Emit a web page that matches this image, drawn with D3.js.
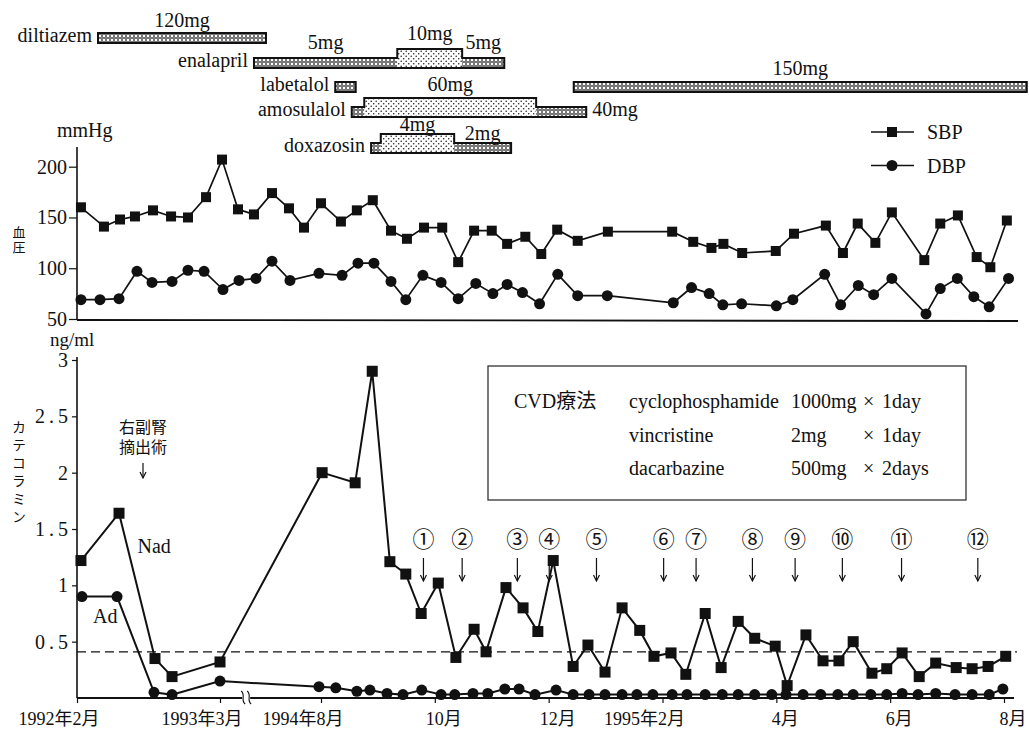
<!DOCTYPE html>
<html>
<head>
<meta charset="utf-8">
<script src="https://cdn.jsdelivr.net/npm/d3@7/dist/d3.min.js"></script>
<style>
body { margin: 0; background: #fff; }
svg text { font-family: 'Liberation Serif', 'Noto Sans CJK JP', serif; fill: #111; }
</style>
</head>
<body>
<svg id="chart" width="1029" height="731"></svg>
<script>
/* time unit: months since 1992年2月 (axis broken between 1993年3月 and 1994年8月) */
var tickMonths = [0, 13, 30, 32, 34, 36, 38, 40, 42];
var tickLabels = ["1992年2月", "1993年3月", "1994年8月", "10月", "12月", "1995年2月", "4月", "6月", "8月"];

// 血圧 mmHg
var sbpMonths = [0.36, 2.45, 3.91, 5.27, 6.91, 8.55, 10.09, 11.73, 13.34, 16.03, 18.72, 21.75, 24.61, 27.14,
    30.00, 30.35, 30.63, 30.91, 31.23, 31.51, 31.81, 32.13, 32.41, 32.69, 33.00, 33.27, 33.59, 33.87, 34.15,
    34.51, 35.04, 36.17, 36.54, 36.86, 37.07, 37.40, 37.99, 38.31, 38.87, 39.17, 39.43, 39.74, 40.03, 40.60,
    40.88, 41.19, 41.52, 41.76, 42.05];
var sbpValues = [160, 141, 148, 151, 157, 151, 150, 170, 207, 158, 153, 174, 159, 140,
    164, 146, 157, 167, 137, 129, 140, 140, 106, 137, 137, 124, 131, 114, 138,
    127, 136, 136, 126, 120, 124, 115, 117, 134, 142, 115, 144, 125, 155, 108,
    144, 152, 111, 101, 147];
var dbpMonths = [0.36, 2.09, 3.82, 5.45, 6.82, 8.64, 10.09, 11.55, 13.50, 16.20, 19.06, 21.75, 24.78, 29.66,
    30.37, 30.65, 30.93, 31.23, 31.49, 31.79, 32.11, 32.41, 32.72, 33.02, 33.27, 33.54, 33.84, 34.16, 34.51,
    35.03, 36.19, 36.51, 36.82, 37.06, 37.39, 38.00, 38.29, 38.85, 39.13, 39.44, 39.71, 40.03, 40.63, 40.88,
    41.18, 41.47, 41.74, 42.08];
var dbpValues = [69, 69, 70, 97, 86, 87, 98, 97, 79, 88, 90, 107, 88, 95,
    93, 105, 105, 87, 69, 93, 86, 70, 85, 75, 84, 76, 65, 94, 73,
    73, 66, 81, 75, 64, 65, 63, 69, 94, 64, 83, 74, 90, 55, 80,
    90, 72, 62, 90];

// カテコラミン ng/ml
var nadMonths = [0.36, 3.82, 7.09, 8.64, 13.0, 30.02, 30.60, 30.90, 31.21, 31.49, 31.76, 32.06, 32.37, 32.69,
    32.90, 33.25, 33.55, 33.81, 34.08, 34.43, 34.69, 34.99, 35.29, 35.60, 35.85, 36.15, 36.41, 36.75, 37.03,
    37.33, 37.62, 37.98, 38.19, 38.52, 38.82, 39.10, 39.35, 39.68, 39.94, 40.21, 40.51, 40.80, 41.16, 41.44,
    41.72, 42.03];
var nadValues = [1.22, 1.64, 0.35, 0.19, 0.32, 2.00, 1.91, 2.90, 1.21, 1.10, 0.75, 1.02, 0.36, 0.61,
    0.41, 0.98, 0.80, 0.59, 1.22, 0.28, 0.47, 0.23, 0.80, 0.60, 0.37, 0.40, 0.21, 0.75, 0.27,
    0.68, 0.53, 0.46, 0.11, 0.56, 0.33, 0.33, 0.50, 0.22, 0.26, 0.40, 0.19, 0.31, 0.27, 0.26,
    0.28, 0.37];
var adMonths = [0.45, 3.64, 7.00, 8.64, 13.0, 29.66, 30.26, 30.63, 30.86, 31.16, 31.44, 31.77, 32.11, 32.35,
    32.67, 32.93, 33.23, 33.48, 33.76, 34.13, 34.43, 34.71, 34.99, 35.29, 35.55, 35.83, 36.17, 36.43, 36.75,
    37.05, 37.33, 37.62, 37.92, 38.17, 38.47, 38.78, 39.08, 39.35, 39.66, 39.94, 40.21, 40.49, 40.80, 41.14,
    41.44, 41.74, 41.98];
var adValues = [0.90, 0.90, 0.05, 0.03, 0.15, 0.10, 0.09, 0.06, 0.07, 0.04, 0.03, 0.07, 0.03, 0.03,
    0.04, 0.04, 0.08, 0.08, 0.03, 0.07, 0.03, 0.03, 0.03, 0.03, 0.03, 0.03, 0.03, 0.03, 0.03,
    0.03, 0.03, 0.03, 0.03, 0.03, 0.03, 0.03, 0.03, 0.03, 0.03, 0.03, 0.04, 0.03, 0.04, 0.03,
    0.03, 0.03, 0.08];
var nadUpperLimit = 0.41; // 破線

// CVD療法 cycles
var cycleMonths = [31.80, 32.48, 33.45, 34.01, 34.84, 36.02, 36.59, 37.58, 38.33, 39.16, 40.20, 41.54];
var cycleLabels = ["①", "②", "③", "④", "⑤", "⑥", "⑦", "⑧", "⑨", "⑩", "⑪", "⑫"];
var cvdRows = [
    ["cyclophosphamide", "1000mg", "1day"],
    ["vincristine", "2mg", "1day"],
    ["dacarbazine", "500mg", "2days"]
];
var surgeryMonth = 6.0;
var surgeryText = ["右副腎", "摘出術"];

// drugs: level 1 = thin bar, level 2 = raised (higher dose)
var drugNames = ["diltiazem", "enalapril", "labetalol", "amosulalol", "doxazosin"];
var drugSegments = [
    { drug: "diltiazem", start: 1.91, end: 20.74, level: 1, dose: "120mg" },
    { drug: "enalapril", start: 18.72, end: 31.34, level: 1, dose: "5mg" },
    { drug: "enalapril", start: 31.34, end: 32.48, level: 2, dose: "10mg" },
    { drug: "enalapril", start: 32.48, end: 33.22, level: 1, dose: "5mg" },
    { drug: "labetalol", start: 30.25, end: 30.61, level: 1, dose: "" },
    { drug: "labetalol", start: 34.44, end: 42.40, level: 1, dose: "150mg" },
    { drug: "amosulalol", start: 30.54, end: 30.76, level: 1, dose: "" },
    { drug: "amosulalol", start: 30.76, end: 33.78, level: 2, dose: "60mg" },
    { drug: "amosulalol", start: 33.78, end: 34.66, level: 1, dose: "40mg", side: "right" },
    { drug: "doxazosin", start: 30.88, end: 31.05, level: 1, dose: "" },
    { drug: "doxazosin", start: 31.05, end: 32.34, level: 2, dose: "4mg" },
    { drug: "doxazosin", start: 32.34, end: 33.34, level: 1, dose: "2mg" }
];

var bpTicks = [50, 100, 150, 200];
var ngTicks = [0.5, 1, 1.5, 2, 2.5, 3];
var bpSeries = ["SBP", "DBP"];

/* ---------------- drawing ---------------- */
var svg = d3.select("#chart");
var CJK = "'Noto Sans CJK JP', sans-serif";
var SERIF = "'Liberation Serif', 'Noto Sans CJK JP', serif";

// broken time scale (polylinear)
var x = d3.scaleLinear().domain([0, 13, 30, 42]).range([77, 220, 321, 1004]);
var yBP = d3.scaleLinear().domain([50, 200]).range([319, 166.7]);
var yNg = d3.scaleLinear().domain([0, 3]).range([698, 360]);
var X0 = 77, XEND = 1017;

// patterns for the drug bars
var defs = svg.append("defs");
var p1 = defs.append("pattern").attr("id", "dose1").attr("width", 4).attr("height", 4)
    .attr("patternUnits", "userSpaceOnUse");
p1.append("rect").attr("width", 4).attr("height", 4).attr("fill", "#fff");
p1.append("circle").attr("cx", 2).attr("cy", 2).attr("r", 1.3)
    .attr("fill", "none").attr("stroke", "#222").attr("stroke-width", 1);
var p2 = defs.append("pattern").attr("id", "dose2").attr("width", 5).attr("height", 5)
    .attr("patternUnits", "userSpaceOnUse");
p2.append("rect").attr("width", 5).attr("height", 5).attr("fill", "#fff");
p2.append("circle").attr("cx", 1.2).attr("cy", 1.2).attr("r", 0.8).attr("fill", "#222");
p2.append("circle").attr("cx", 3.7).attr("cy", 3.7).attr("r", 0.8).attr("fill", "#222");

/* ---- drug bars ---- */
var rowBottom = [43, 68, 92, 117, 153];
var rowLabelGap = [6, 9, 7, 7, 3]; // dose text above bar
var levelHeight = [0, 10, 19];
var gDrug = svg.append("g");

drugNames.forEach(function (name, r) {
    var segs = drugSegments.filter(function (s) { return s.drug === name; })
        .sort(function (a, b) { return a.start - b.start; });
    var bottom = rowBottom[r];
    var top = function (s) { return bottom - levelHeight[s.level]; };

    gDrug.selectAll(null).data(segs).enter().append("rect")
        .attr("x", function (s) { return x(s.start); })
        .attr("y", function (s) { return top(s); })
        .attr("width", function (s) { return x(s.end) - x(s.start); })
        .attr("height", function (s) { return levelHeight[s.level]; })
        .attr("fill", function (s) { return "url(#dose" + s.level + ")"; });

    // outline each contiguous run as one step shape
    var runs = [];
    segs.forEach(function (s) {
        var last = runs[runs.length - 1];
        if (last && Math.abs(last[last.length - 1].end - s.start) < 0.01) last.push(s);
        else runs.push([s]);
    });
    runs.forEach(function (run) {
        var d = "M" + x(run[0].start) + "," + bottom;
        run.forEach(function (s) {
            d += "V" + top(s) + "H" + x(s.end);
        });
        d += "V" + bottom + "Z";
        gDrug.append("path").attr("d", d).attr("fill", "none")
            .attr("stroke", "#111").attr("stroke-width", 2);
    });

    gDrug.append("text")
        .attr("x", x(segs[0].start) - 6).attr("y", bottom - 1)
        .attr("text-anchor", "end").attr("font-size", 20)
        .text(name);

    segs.filter(function (s) { return s.dose; }).forEach(function (s) {
        if (s.side === "right") {
            gDrug.append("text").attr("x", x(s.end) + 6).attr("y", bottom - 1)
                .attr("font-size", 20).text(s.dose);
        } else {
            gDrug.append("text").attr("x", (x(s.start) + x(s.end)) / 2).attr("y", top(s) - rowLabelGap[r])
                .attr("text-anchor", "middle").attr("font-size", 20).text(s.dose);
        }
    });
});

/* helper: vertical (縦書き) label */
function verticalLabel(text, cx, y0, size, spacing) {
    svg.append("text")
        .attr("x", cx).attr("y", y0)
        .attr("font-size", size)
        .attr("letter-spacing", spacing)
        .style("font-family", CJK)
        .style("writing-mode", "vertical-rl")
        .style("text-orientation", "upright")
        .text(text);
}

/* helper: thin down arrow */
function downArrow(g, ax, y1, y2) {
    g.append("line").attr("x1", ax).attr("x2", ax).attr("y1", y1).attr("y2", y2)
        .attr("stroke", "#111").attr("stroke-width", 1.2);
    g.append("path").attr("d", "M" + (ax - 3) + "," + (y2 - 6) + "L" + ax + "," + y2 + "L" + (ax + 3) + "," + (y2 - 6))
        .attr("fill", "none").attr("stroke", "#111").attr("stroke-width", 1.2);
}

/* ---- blood pressure panel ---- */
var gBP = svg.append("g");
gBP.append("line").attr("x1", X0).attr("x2", X0).attr("y1", 147).attr("y2", 320)
    .attr("stroke", "#111").attr("stroke-width", 1.6);
gBP.append("line").attr("x1", X0).attr("x2", XEND + 1).attr("y1", 320).attr("y2", 321)
    .attr("stroke", "#111").attr("stroke-width", 1.8);
var bpAxis = gBP.append("g").attr("transform", "translate(" + X0 + ",0)")
    .call(d3.axisLeft(yBP).tickValues(bpTicks).tickSize(8).tickPadding(2));
bpAxis.select(".domain").remove();
bpAxis.selectAll("line").attr("stroke", "#111").attr("stroke-width", 1.2);
bpAxis.selectAll("text").attr("font-size", 20).style("font-family", SERIF).attr("fill", "#111");

gBP.append("text").attr("x", 57).attr("y", 137).attr("font-size", 20).text("mmHg");
verticalLabel("血圧", 19, 226, 13, 2);

var bpLine = d3.line().x(function (d) { return x(d[0]); }).y(function (d) { return yBP(d[1]); });
var sbp = d3.zip(sbpMonths, sbpValues), dbp = d3.zip(dbpMonths, dbpValues);
gBP.append("path").attr("d", bpLine(sbp)).attr("fill", "none").attr("stroke", "#111").attr("stroke-width", 1.7);
gBP.append("path").attr("d", bpLine(dbp)).attr("fill", "none").attr("stroke", "#111").attr("stroke-width", 1.7);
gBP.selectAll(".sbp").data(sbp).enter().append("rect").attr("class", "sbp")
    .attr("x", function (d) { return x(d[0]) - 5; }).attr("y", function (d) { return yBP(d[1]) - 5; })
    .attr("width", 10).attr("height", 10).attr("fill", "#111");
gBP.selectAll(".dbp").data(dbp).enter().append("circle").attr("class", "dbp")
    .attr("cx", function (d) { return x(d[0]); }).attr("cy", function (d) { return yBP(d[1]); })
    .attr("r", 5.5).attr("fill", "#111");

// legend
var lg = gBP.append("g").selectAll(null).data(bpSeries).enter().append("g")
    .attr("transform", function (d, i) { return "translate(871," + (132 + i * 33.5) + ")"; });
lg.append("line").attr("x1", 0).attr("x2", 43).attr("stroke", "#111").attr("stroke-width", 1.6);
lg.filter(function (d, i) { return i === 0; }).append("rect")
    .attr("x", 16).attr("y", -5).attr("width", 10).attr("height", 10).attr("fill", "#111");
lg.filter(function (d, i) { return i === 1; }).append("circle")
    .attr("cx", 21).attr("r", 5.5).attr("fill", "#111");
lg.append("text").attr("x", 56).attr("y", 7).attr("font-size", 20).text(function (d) { return d; });

/* ---- catecholamine panel ---- */
var gNg = svg.append("g");
gNg.append("line").attr("x1", X0).attr("x2", X0).attr("y1", 357).attr("y2", 698)
    .attr("stroke", "#111").attr("stroke-width", 1.6);
gNg.append("line").attr("x1", X0).attr("x2", XEND - 3).attr("y1", 698).attr("y2", 698)
    .attr("stroke", "#111").attr("stroke-width", 1.8);

var ngAxis = gNg.append("g").attr("transform", "translate(" + X0 + ",0)")
    .call(d3.axisLeft(yNg).tickValues(ngTicks).tickSize(5).tickPadding(0).tickFormat(d3.format("")));
ngAxis.select(".domain").remove();
ngAxis.selectAll("line").attr("stroke", "#111").attr("stroke-width", 1.2);
ngAxis.selectAll("text").attr("font-size", 20).style("font-family", SERIF).attr("fill", "#111")
    .attr("letter-spacing", 4);

gNg.append("text").attr("x", 50).attr("y", 346).attr("font-size", 19).text("ng/ml");
verticalLabel("カテコラミン", 19, 420, 14, 4);

// x ticks + labels (month digit centred on the tick)
var xAxis = gNg.append("g").attr("transform", "translate(0,698)")
    .call(d3.axisBottom(x).tickValues(tickMonths).tickSize(5).tickFormat(""));
xAxis.select(".domain").remove();
xAxis.selectAll("line").attr("stroke", "#111").attr("stroke-width", 1.2);

tickMonths.forEach(function (m, i) {
    var label = tickLabels[i];
    var parts = label.match(/^(.*?年)?(\d+)月$/);
    var pre = parts[1] || "", num = parts[2];
    var t = gNg.append("text").attr("y", 725).attr("font-size", 18).text(label);
    var node = t.node();
    var w0 = pre.length ? node.getSubStringLength(0, pre.length) : 0;
    var wn = node.getSubStringLength(pre.length, num.length);
    t.attr("x", x(m) - w0 - wn / 2);
});

// axis break mark
var xb = x(17.4);
gNg.append("rect").attr("x", xb - 4).attr("y", 694).attr("width", 8).attr("height", 8).attr("fill", "#fff");
[-3, 3].forEach(function (dx) {
    gNg.append("path")
        .attr("d", "M" + (xb + dx - 2) + ",691 C" + (xb + dx + 3) + ",695 " + (xb + dx - 3) + ",700 " + (xb + dx + 2) + ",704")
        .attr("fill", "none").attr("stroke", "#111").attr("stroke-width", 1.1);
});

// upper limit dashed line
gNg.append("line").attr("x1", X0).attr("x2", XEND).attr("y1", yNg(nadUpperLimit)).attr("y2", yNg(nadUpperLimit))
    .attr("stroke", "#111").attr("stroke-width", 1.2).attr("stroke-dasharray", "9,5");

var ngLine = d3.line().x(function (d) { return x(d[0]); }).y(function (d) { return yNg(d[1]); });
var nad = d3.zip(nadMonths, nadValues), ad = d3.zip(adMonths, adValues);
gNg.append("path").attr("d", ngLine(nad)).attr("fill", "none").attr("stroke", "#111").attr("stroke-width", 2);
gNg.append("path").attr("d", ngLine(ad)).attr("fill", "none").attr("stroke", "#111").attr("stroke-width", 2);
gNg.selectAll(".nad").data(nad).enter().append("rect").attr("class", "nad")
    .attr("x", function (d) { return x(d[0]) - 5.5; }).attr("y", function (d) { return yNg(d[1]) - 5.5; })
    .attr("width", 11).attr("height", 11).attr("fill", "#111");
gNg.selectAll(".ad").data(ad).enter().append("circle").attr("class", "ad")
    .attr("cx", function (d) { return x(d[0]); }).attr("cy", function (d) { return yNg(d[1]); })
    .attr("r", 5.5).attr("fill", "#111");

gNg.append("text").attr("x", x(5.5)).attr("y", yNg(1.29)).attr("font-size", 20).text("Nad");
gNg.append("text").attr("x", x(1.45)).attr("y", yNg(0.67)).attr("font-size", 20).text("Ad");

// surgery note (two lines in one text)
var st = gNg.append("text").attr("y", 433).attr("text-anchor", "middle")
    .attr("font-size", 16).style("font-family", CJK);
surgeryText.forEach(function (s, i) {
    st.append("tspan").attr("x", x(surgeryMonth)).attr("dy", i === 0 ? 0 : 20).text(s);
});
downArrow(gNg, x(surgeryMonth), 463, 478);

// CVD cycles
cycleMonths.forEach(function (m, i) {
    gNg.append("text").attr("x", x(m)).attr("y", 547).attr("text-anchor", "middle")
        .attr("font-size", 22).style("font-family", CJK).text(cycleLabels[i]);
    downArrow(gNg, x(m), 558, 581);
});

// CVD療法 box
var box = gNg.append("g").attr("transform", "translate(488,366)");
box.append("rect").attr("width", 478).attr("height", 134).attr("fill", "#fff")
    .attr("stroke", "#333").attr("stroke-width", 1.3);
box.append("text").attr("x", 26).attr("y", 42).attr("font-size", 20).text("CVD療法");
var rows = box.selectAll(".cvd").data(cvdRows).enter().append("g").attr("class", "cvd")
    .attr("transform", function (d, i) { return "translate(0," + (42 + i * 33.5) + ")"; });
rows.append("text").attr("x", 141).attr("font-size", 20).text(function (d) { return d[0]; });
rows.append("text").attr("x", 303).attr("font-size", 20).text(function (d) { return d[1]; });
rows.append("text").attr("x", 375).attr("font-size", 20).text("×");
rows.append("text").attr("x", 394).attr("font-size", 20).text(function (d) { return d[2]; });
</script>
</body>
</html>
